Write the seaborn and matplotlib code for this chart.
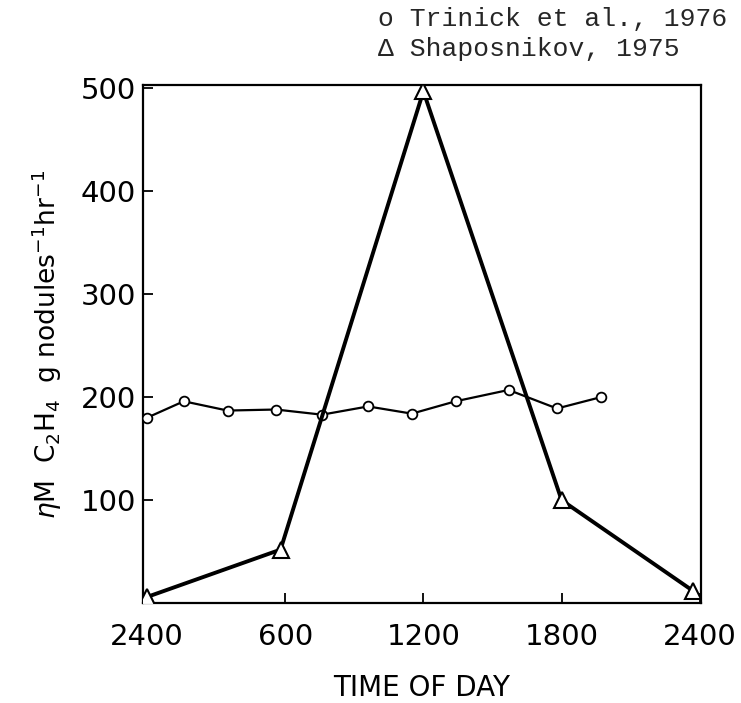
import numpy as np
import pandas as pd
import matplotlib
matplotlib.use('Agg')
import matplotlib.pyplot as plt
import seaborn as sns

# hours since midnight and nitrogenase activity
trinick_hour = [0.0, 1.6, 3.5, 5.6, 7.6, 9.6, 11.5, 13.4, 15.7, 17.8, 19.7]
trinick_val = [180, 196, 187, 188, 183, 191, 184, 196, 207, 189, 200]

shapos_hour = [0.0, 5.8, 12.0, 18.0, 23.7]
shapos_val = [6, 52, 497, 100, 12]

xtick_pos = [0, 6, 12, 18, 24]
xtick_labels = ['2400', '600', '1200', '1800', '2400']
ytick_pos = [100, 200, 300, 400, 500]

legend_lines = ['o Trinick et al., 1976', '\u0394 Shaposnikov, 1975']

sns.set_style('ticks')
plt.rcParams['font.family'] = ['DejaVu Sans']

fig = plt.figure(figsize=(7.41, 7.03), dpi=100)
ax = fig.add_axes([0.193, 0.142, 0.753, 0.737])

df_t = pd.DataFrame({'hour': trinick_hour, 'val': trinick_val})
df_s = pd.DataFrame({'hour': shapos_hour, 'val': shapos_val})

sns.lineplot(data=df_t, x='hour', y='val', ax=ax, color='black', lw=1.6,
             marker='o', markersize=7, markerfacecolor='white',
             markeredgecolor='black', markeredgewidth=1.3, zorder=3)
sns.lineplot(data=df_s, x='hour', y='val', ax=ax, color='black', lw=2.8,
             marker='^', markersize=12, markerfacecolor='white',
             markeredgecolor='black', markeredgewidth=1.5, zorder=4)

ax.set_xlim(-0.17, 24.05)
ax.set_ylim(0, 503)
ax.set_xticks(xtick_pos)
ax.set_xticklabels(xtick_labels)
ax.set_yticks(ytick_pos)
ax.tick_params(direction='in', length=7, width=1.3, labelsize=21,
               colors='black')
ax.tick_params(axis='x', pad=14)
ax.tick_params(axis='y', pad=5)
for s in ax.spines.values():
    s.set_linewidth(1.6)
    s.set_color('black')

ax.set_xlabel('TIME OF DAY', fontsize=20, labelpad=17, color='black')
ax.set_ylabel(r'$\eta$M  C$_2$H$_4$  g nodules$^{-1}$hr$^{-1}$', fontsize=19,
              labelpad=12, color='black')

for i, line in enumerate(legend_lines):
    fig.text(0.51, 0.99 - i * 0.043, line, family='Liberation Mono',
             fontsize=19, va='top', ha='left')

fig.savefig('out.png', dpi=100)
